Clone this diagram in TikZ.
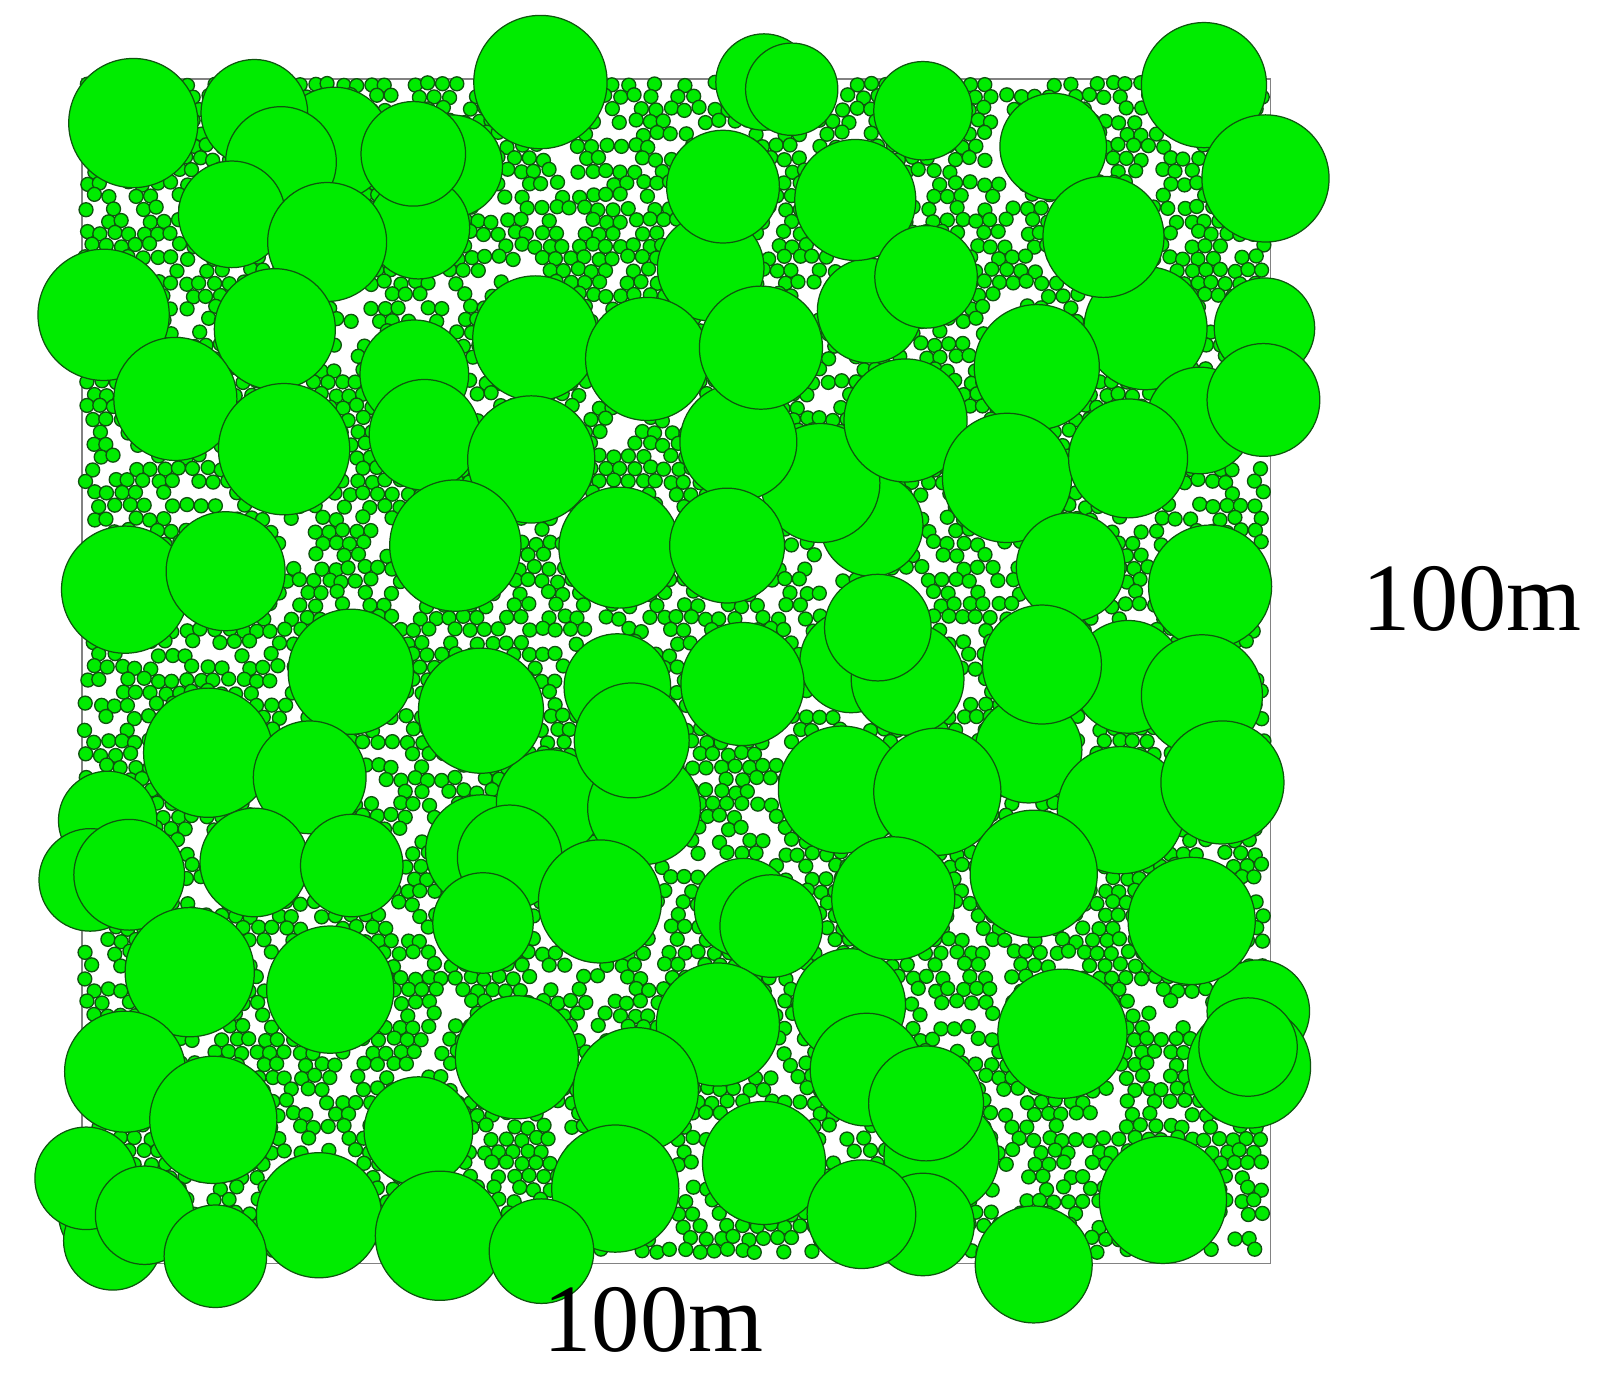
\documentclass[tikz,border=0pt]{standalone}
\usepackage{fontspec}
\setmainfont{Liberation Serif}
\definecolor{treegreen}{RGB}{0,236,0}
\definecolor{edgegreen}{RGB}{15,85,15}
\definecolor{framegray}{RGB}{130,130,130}
\tikzset{
  bigtree/.style={fill=treegreen, draw=edgegreen, line width=1.2pt},
  smalltree/.style={fill=treegreen, draw=edgegreen, line width=1.3pt},
  frameline/.style={draw=framegray, line width=1.6pt},
  label100/.style={font=\fontsize{94}{94}\selectfont, inner sep=0pt, anchor=base west}
}
\begin{document}
\begin{tikzpicture}[x=1pt,y=-1pt]
\useasboundingbox (0,0) rectangle (1568,1340);
\fill[white] (0,0) rectangle (1568,1340);
% frame
\draw[frameline] (80,77) rectangle (1239,1232);
% small trees on a jittered packing
\pgfmathsetseed{11}
\foreach \j in {0,...,94}{
  \foreach \i in {0,...,82}{
    \pgfmathsetmacro\px{84+\i*13.9+mod(\j,2)*6.9+rand*1.8}
    \pgfmathsetmacro\py{82+\j*12.1+rand*1.8}
    \pgfmathtruncatemacro\keep{rnd<0.71 ? 1 : 0}
    \ifnum\keep=1
      \path[smalltree] (\px,\py) circle[radius=6.8pt];
    \fi
  }
}
% big trees, back layer
\foreach \x/\y/\r in {
326/140/55, 440/162/50, 408/222/50, 248/110/52, 745/80/47, 772/87/45,
693/261/52, 848/303/51, 1117/320/60, 1170/410/52, 850/512/50, 800/471/58,
720/431/57, 830/645/50, 885/662/55, 1100/660/55, 1003/731/52, 470/830/55,
725/885/48, 536/783/52, 628/788/55, 105/800/48, 88/858/50, 1227/986/50,
1218/1040/60, 828/980/55, 918/1127/56, 900/1194/50, 107/1183/50, 110/1210/48}
  \path[bigtree] (\x,\y) circle[radius=\r pt];
% big trees, front layer
\foreach \x/\y/\r in {
130/120/63, 274/158/54, 403/150/51, 527/80/65, 226/209/52, 319/236/58,
705/182/55, 834/195/59, 900/108/48, 1027/143/52, 1174/83/61, 1234/174/62,
1076/231/59, 903/270/50, 101/307/64, 268/321/59, 522/330/61, 631/350/60,
742/339/60, 1011/358/61, 1233/320/49, 1232/390/55, 171/389/60, 404/365/53,
414/424/54, 277/438/64, 518/448/62, 883/410/60, 982/466/63, 1100/447/58,
122/575/62, 220/557/58, 444/532/64, 604/534/59, 709/532/56, 1044/553/53,
1180/572/60, 856/612/52, 342/655/61, 469/693/61, 602/670/52, 724/667/60,
1016/648/58, 1172/678/59, 203/734/63, 302/758/55, 616/722/56, 821/770/62,
914/772/62, 1093/790/62, 1192/763/60, 126/853/54, 248/841/53, 343/844/50,
497/836/51, 471/900/49, 585/879/60, 752/903/50, 871/876/60, 1008/852/62,
1162/898/62, 185/948/63, 322/965/62, 700/999/60, 504/1031/60, 845/1043/55,
1036/1008/63, 1217/1021/48, 122/1045/59, 208/1092/62, 620/1063/61, 408/1103/53,
903/1076/56, 84/1149/50, 141/1185/48, 745/1134/60, 600/1159/62, 840/1184/53,
1134/1170/62, 311/1185/61, 429/1205/63, 528/1220/51, 210/1225/50, 1008/1233/57}
  \path[bigtree] (\x,\y) circle[radius=\r pt];
% labels
\node[label100] (rightlabel) at (1328,615) {100m};
\node[label100] (bottomlabel) at (530,1318) {100m};
\end{tikzpicture}
\end{document}
